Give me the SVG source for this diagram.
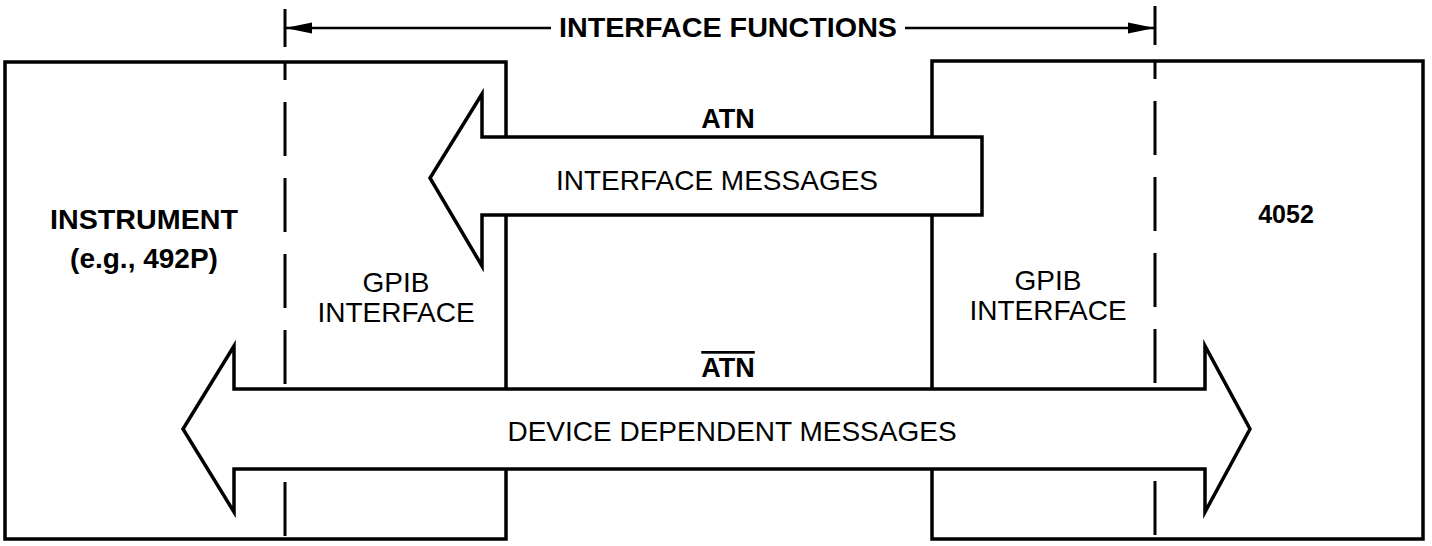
<svg xmlns="http://www.w3.org/2000/svg" width="1432" height="546" viewBox="0 0 1432 546">
  <defs>
    <marker id="dimArrow" markerUnits="userSpaceOnUse" markerWidth="28" markerHeight="14" refX="27" refY="7" orient="auto-start-reverse">
      <path d="M0,1.5 L27,7 L0,12.5 z" fill="#000"/>
    </marker>
    <style>
      .box { fill: #fff; stroke: #000; stroke-width: 3.5; stroke-linejoin: miter; }
      .bound { stroke: #000; stroke-width: 3; stroke-dasharray: 54 22; stroke-dashoffset: 36; fill: none; }
      .tick { stroke: #000; stroke-width: 3; }
      .dim { stroke: #000; stroke-width: 2.5; fill: none; }
      .arrow { fill: #fff; stroke: #000; stroke-width: 3.5; stroke-linejoin: miter; stroke-miterlimit: 10; }
      .b { font-family: "Liberation Sans", Arial, sans-serif; font-weight: bold; font-size: 28px; fill: #000; text-anchor: middle; }
      .r { font-family: "Liberation Sans", Arial, sans-serif; font-weight: normal; font-size: 28px; fill: #000; text-anchor: middle; }
    </style>
  </defs>
  <rect width="1432" height="546" fill="#fff"/>

  <g id="instrument">
    <rect class="box" x="5" y="62" width="501" height="477"/>
    <line class="bound" x1="285" y1="62" x2="285" y2="539"/>
    <text class="b" x="144" y="229" textLength="188" lengthAdjust="spacingAndGlyphs">INSTRUMENT</text>
    <text class="b" x="144" y="268">(e.g., 492P)</text>
    <text class="r" x="396" y="292">GPIB</text>
    <text class="r" x="396" y="322">INTERFACE</text>
  </g>

  <g id="device-4052">
    <rect class="box" x="932" y="61" width="491" height="478"/>
    <line class="bound" x1="1155" y1="61" x2="1155" y2="539"/>
    <text class="b" x="1286" y="223" style="font-size:25px">4052</text>
    <text class="r" x="1048" y="290">GPIB</text>
    <text class="r" x="1048" y="320">INTERFACE</text>
  </g>

  <g id="interface-functions">
    <line class="tick" x1="285" y1="9" x2="285" y2="47"/>
    <line class="tick" x1="1155" y1="6" x2="1155" y2="45"/>
    <line class="dim" x1="285" y1="28" x2="551" y2="28" marker-start="url(#dimArrow)"/>
    <line class="dim" x1="905" y1="28" x2="1155" y2="28" marker-end="url(#dimArrow)"/>
    <text class="b" x="728" y="37" textLength="338" lengthAdjust="spacingAndGlyphs">INTERFACE FUNCTIONS</text>
  </g>

  <g id="connectors">
    <g id="interface-messages">
      <polygon class="arrow" points="982,137 482,137 482,94 430,178 482,266 482,215 982,215"/>
      <text class="b" x="728" y="128" style="font-size:27px">ATN</text>
      <text class="r" x="717" y="190">INTERFACE MESSAGES</text>
    </g>
    <g id="device-dependent-messages">
      <polygon class="arrow" points="234,389 234,346 183,429 234,512 234,469 1205,469 1205,512 1250,429 1205,346 1205,389"/>
      <text class="b" x="728" y="377" style="font-size:27px;text-decoration:overline">ATN</text>
      <text class="r" x="732" y="441">DEVICE DEPENDENT MESSAGES</text>
    </g>
  </g>
</svg>
